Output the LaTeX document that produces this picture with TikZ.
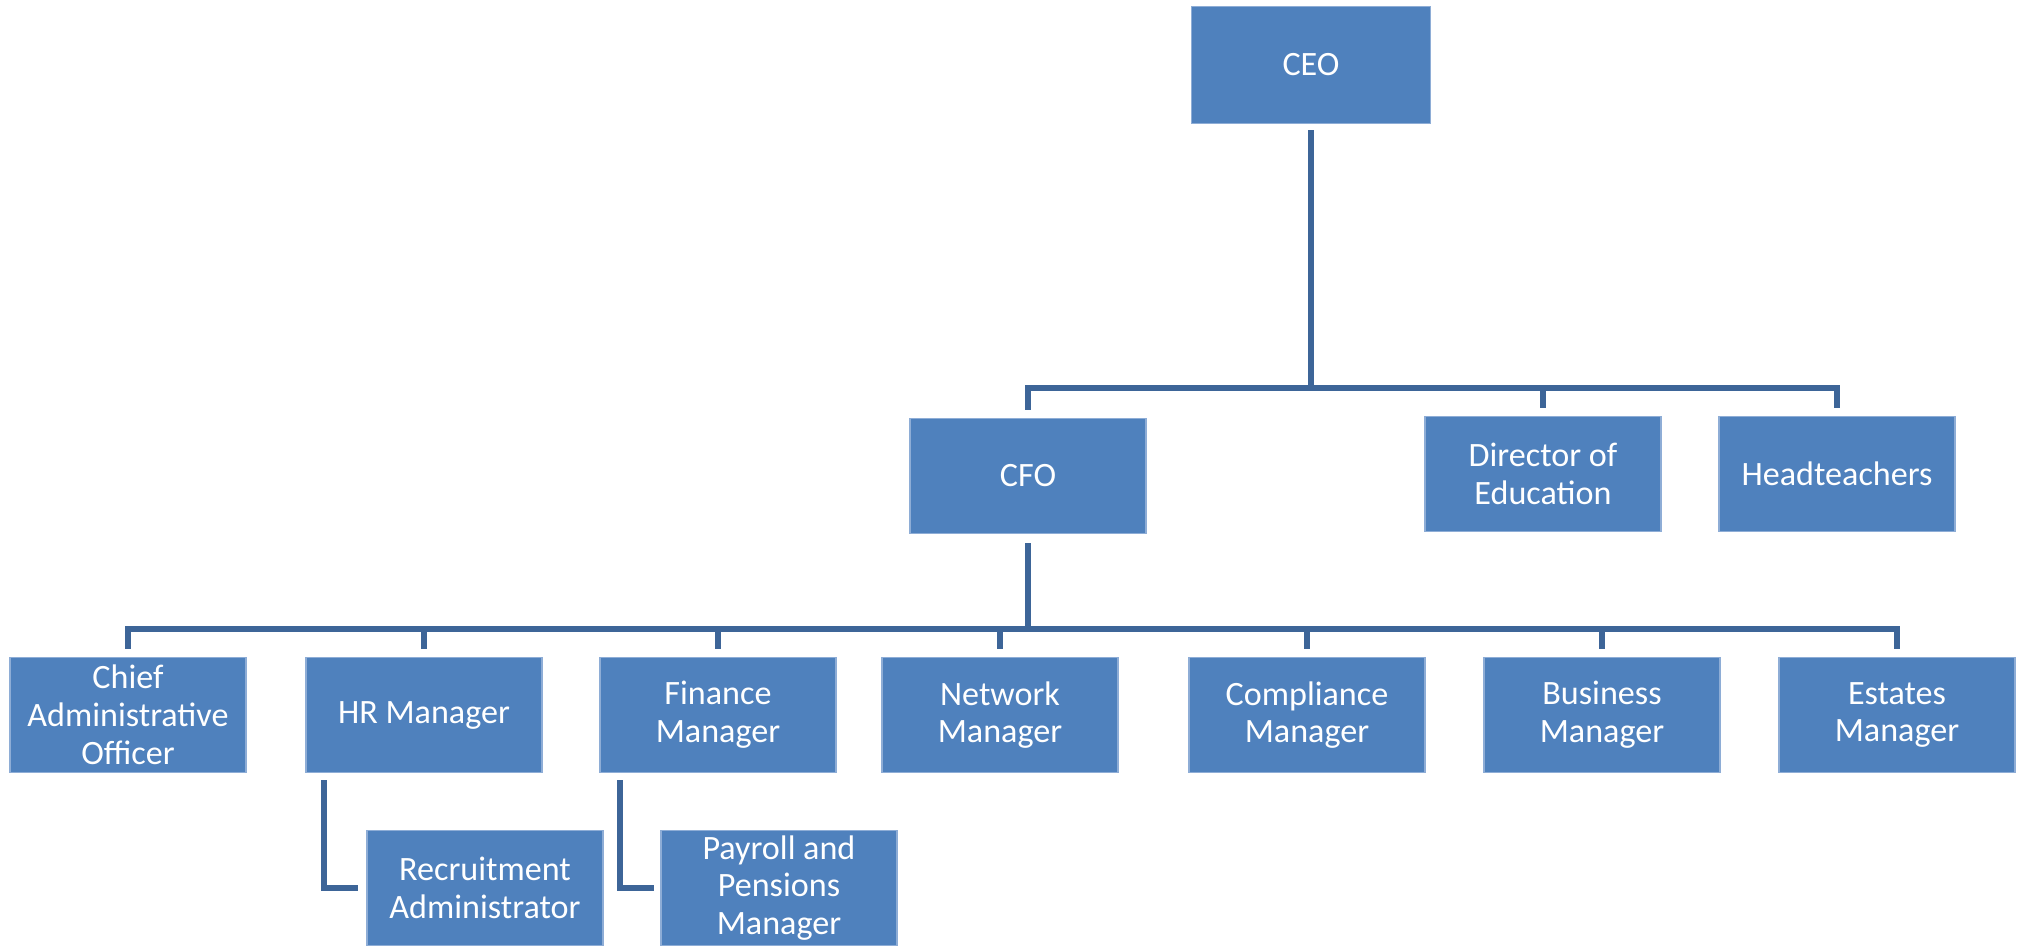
\documentclass[tikz,border=0pt]{standalone}
\usepackage{fontspec}
\setmainfont{Carlito}
\definecolor{boxfill}{HTML}{4F81BD}
\definecolor{boxedge}{HTML}{8EADD6}
\definecolor{linecol}{HTML}{3D6598}
\begin{document}
\begin{tikzpicture}[x=0.01cm,y=-0.01cm,
  orgbox/.style={draw=boxedge, line width=0.4pt, fill=boxfill, text=white,
    minimum width=2.36cm, minimum height=1.15cm, inner sep=0pt, align=center,
    font=\fontsize{9.7}{10.75}\selectfont},
  conn/.style={draw=linecol, line width=1.6pt, line join=miter}]
\useasboundingbox (0,0) rectangle (2024,945);
% nodes
\node[orgbox, minimum width=2.39cm, minimum height=1.17cm] (ceo) at (1311,65) {CEO};
\node[orgbox] (cfo) at (1028,476) {CFO};
\node[orgbox] (doe) at (1543,474) {Director of\\Education};
\node[orgbox] (head) at (1837,474) {Headteachers};
\node[orgbox] (cao) at (128,715) {Chief\\Administrative\\Officer};
\node[orgbox] (hr) at (424,715) {HR Manager};
\node[orgbox] (fin) at (718,715) {Finance\\Manager};
\node[orgbox] (net) at (1000,715) {Network\\Manager};
\node[orgbox] (comp) at (1307,715) {Compliance\\Manager};
\node[orgbox] (bus) at (1602,715) {Business\\Manager};
\node[orgbox] (est) at (1897,715) {Estates\\Manager};
\node[orgbox] (rec) at (485,888) {Recruitment\\Administrator};
\node[orgbox] (pay) at (779,888) {Payroll and\\Pensions\\Manager};
% bus coordinates
\coordinate (b1) at (0,388);
\coordinate (b2) at (0,629);
% CEO level
\draw[conn] ([yshift=-0.06cm]ceo.south) -- (ceo.south |- b1);
\draw[conn] ([yshift=0.08cm]cfo.north) -- (cfo.north |- b1) -- (head.north |- b1) -- ([yshift=0.08cm]head.north);
\draw[conn] (doe.north |- b1) -- ([yshift=0.08cm]doe.north);
% CFO level
\draw[conn] ([yshift=-0.09cm]cfo.south) -- (cfo.south |- b2);
\draw[conn] ([yshift=0.08cm]cao.north) -- (cao.north |- b2) -- (est.north |- b2) -- ([yshift=0.08cm]est.north);
\foreach \n in {hr,fin,net,comp,bus}
  \draw[conn] (\n.north |- b2) -- ([yshift=0.08cm]\n.north);
% sub-levels
\draw[conn] ([xshift=0.19cm,yshift=-0.07cm]hr.south west) |- ([xshift=-0.08cm]rec.west);
\draw[conn] ([xshift=0.21cm,yshift=-0.07cm]fin.south west) |- ([xshift=-0.06cm]pay.west);
\end{tikzpicture}
\end{document}
